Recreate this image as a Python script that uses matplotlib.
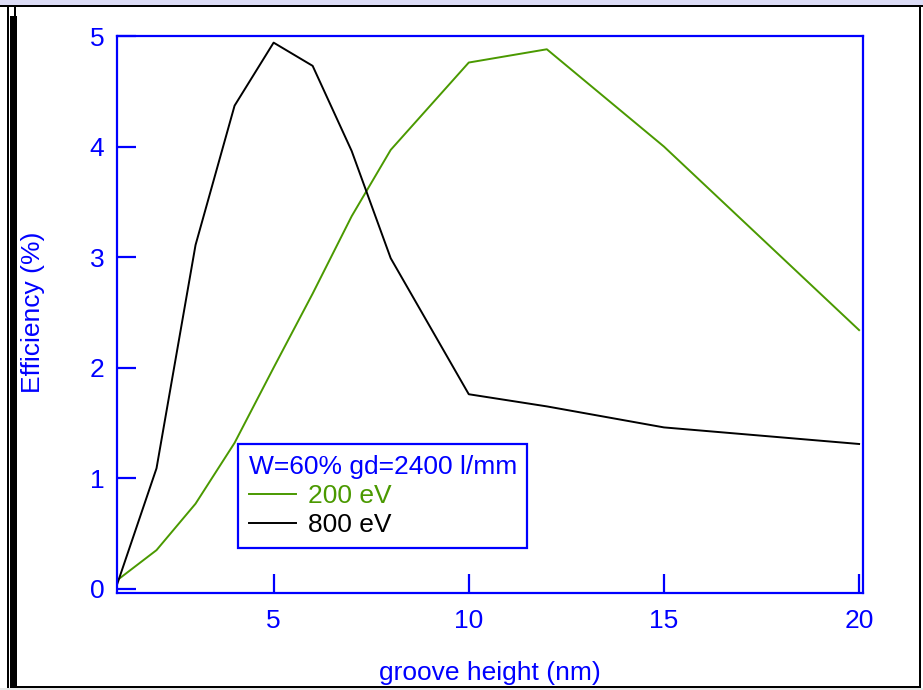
import matplotlib
matplotlib.use("Agg")
import matplotlib.pyplot as plt
from matplotlib.patches import Rectangle

plt.rcParams['font.family'] = ['Liberation Sans', 'DejaVu Sans']

groove_height = [1, 2, 3, 4, 5, 6, 7, 8, 10, 12, 15, 20]
eff_200eV = [0.08, 0.35, 0.77, 1.32, 2.0, 2.67, 3.37, 3.97, 4.76, 4.88, 4.0, 2.34]
eff_800eV = [0.05, 1.09, 3.11, 4.37, 4.94, 4.73, 3.96, 2.99, 1.76, 1.65, 1.46, 1.31]
xticks = [5, 10, 15, 20]
yticks = [0, 1, 2, 3, 4, 5]

W, H = 923, 690
fig = plt.figure(figsize=(W / 100, H / 100), dpi=100)
fig.patch.set_facecolor('white')

def px_rect(x0, y0, x1, y1, color):
    fig.add_artist(Rectangle((x0 / W, 1 - y1 / H), (x1 - x0) / W, (y1 - y0) / H,
                             transform=fig.transFigure, facecolor=color,
                             edgecolor='none', zorder=0))

# window frame decorations
px_rect(0, 0, W, 5, '#dcdcf6')
px_rect(0, 5, W, 7, 'black')
px_rect(7, 5, 9, H, 'black')
px_rect(10, 16, 17, H, 'black')
px_rect(14, 5, 16, 17, 'black')
px_rect(919, 5, 921, 688, 'black')
px_rect(17, 686, 921, 688, 'black')
px_rect(0, 688, W, H, '#e8e8e8')

blue = '#0000ff'
green = '#4a9900'
fs = 19

ax = fig.add_axes([116.7 / W, 1 - 592.7 / H, (863 - 116.7) / W, (592.7 - 36) / H])
ax.plot(groove_height, eff_200eV, color=green, lw=1.4, label='200 eV')
ax.plot(groove_height, eff_800eV, color='black', lw=1.4, label='800 eV')

ax.set_xlim(0.98, 20.1)
ax.set_ylim(-0.035, 5.0)
ax.set_xticks(xticks)
ax.set_yticks(yticks)
for s in ax.spines.values():
    s.set_color(blue)
    s.set_linewidth(1.6)
ax.tick_params(direction='in', length=14, width=1.6, color=blue, labelcolor=blue,
               labelsize=fs, pad=9)
ax.tick_params(axis='x', pad=12)
ax.set_xlabel('groove height (nm)', color=blue, fontsize=fs, va='center', ha='center')
ax.set_ylabel('Efficiency (%)', color=blue, fontsize=fs, va='center', ha='center')
ax.xaxis.set_label_coords(0.5, (592.7 - 673) / 556.7)
ax.yaxis.set_label_coords((33 - 116.7) / 746.3, (592.7 - 312) / 556.7)

leg = ax.legend(title='W=60% gd=2400 l/mm', loc='lower left',
                bbox_to_anchor=((238 - 116.7) / 746.3, (592.7 - 548) / 556.7),
                borderaxespad=0,
                fontsize=fs, title_fontsize=fs, labelcolor='linecolor',
                fancybox=False, frameon=True, handlelength=1.8,
                handletextpad=0.45, borderpad=0.4, labelspacing=0.2,
                alignment='left')
leg.get_title().set_color(blue)
fr = leg.get_frame()
fr.set_edgecolor(blue)
fr.set_linewidth(1.6)
fr.set_alpha(1)

fig.savefig('out.png', dpi=100)
